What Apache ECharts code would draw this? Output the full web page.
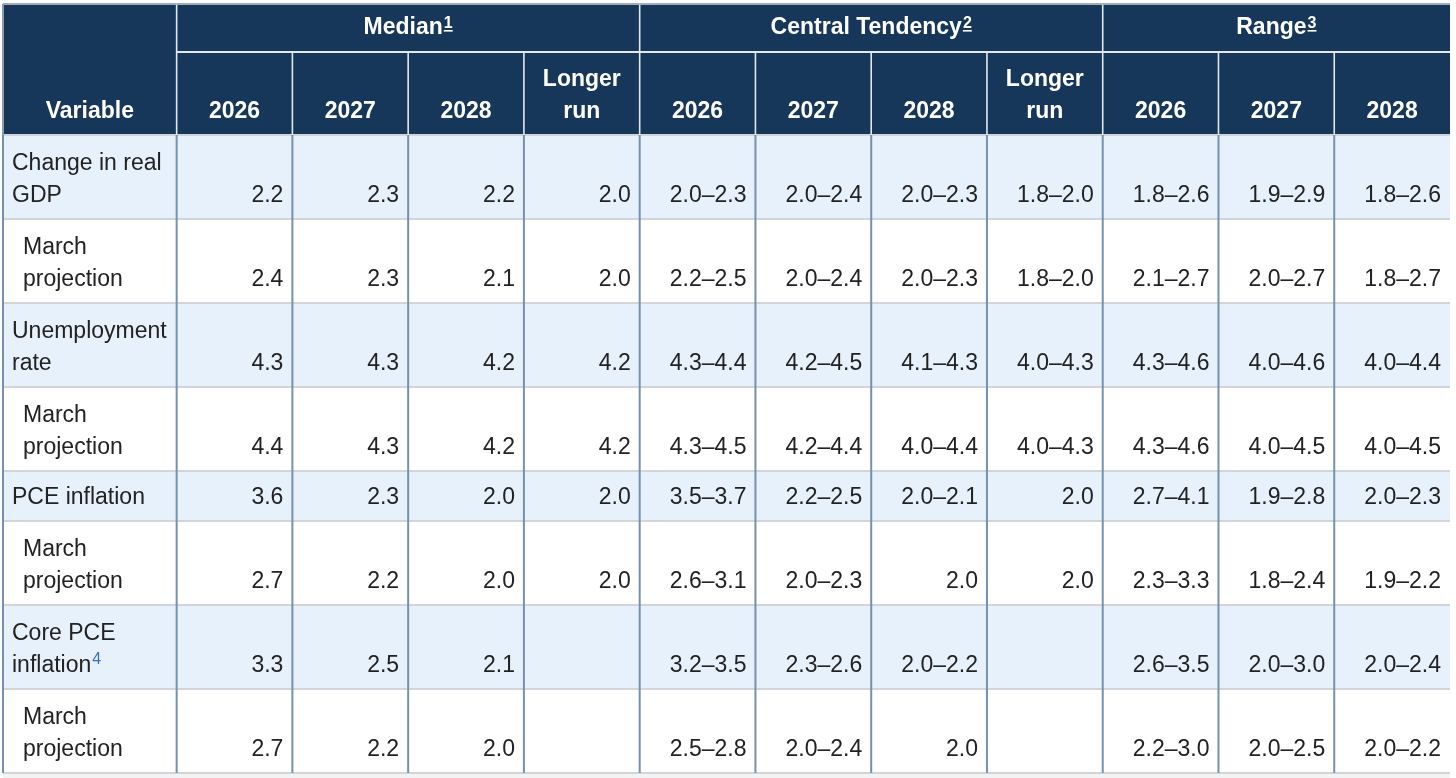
<!DOCTYPE html>
<html>
<head>
<meta charset="utf-8">
<script src="https://cdn.jsdelivr.net/npm/echarts@6/dist/echarts.min.js"></script>
<style>
html, body { margin: 0; padding: 0; background: #ffffff; }
#c { width: 1456px; height: 778px; }
</style>
</head>
<body>
<div id="c"></div>
<script>
// ---------------- data ----------------
const groups = ['Median', 'Central Tendency', 'Range'];
const groupNotes = ['1', '2', '3'];
const groupColumns = [
  ['2026', '2027', '2028', 'Longer\nrun'],
  ['2026', '2027', '2028', 'Longer\nrun'],
  ['2026', '2027', '2028']
];
const variableHeader = 'Variable';
const rowLabels = [
  'Change in real\nGDP',
  'March\nprojection',
  'Unemployment\nrate',
  'March\nprojection',
  'PCE inflation',
  'March\nprojection',
  'Core PCE\ninflation',
  'March\nprojection'
];
const rowNotes = ['', '', '', '', '', '', '4', ''];
const rowIsSub = [false, true, false, true, false, true, false, true];
const median = [
  ['2.2', '2.3', '2.2', '2.0'],
  ['2.4', '2.3', '2.1', '2.0'],
  ['4.3', '4.3', '4.2', '4.2'],
  ['4.4', '4.3', '4.2', '4.2'],
  ['3.6', '2.3', '2.0', '2.0'],
  ['2.7', '2.2', '2.0', '2.0'],
  ['3.3', '2.5', '2.1', ''],
  ['2.7', '2.2', '2.0', '']
];
const centralTendency = [
  ['2.0–2.3', '2.0–2.4', '2.0–2.3', '1.8–2.0'],
  ['2.2–2.5', '2.0–2.4', '2.0–2.3', '1.8–2.0'],
  ['4.3–4.4', '4.2–4.5', '4.1–4.3', '4.0–4.3'],
  ['4.3–4.5', '4.2–4.4', '4.0–4.4', '4.0–4.3'],
  ['3.5–3.7', '2.2–2.5', '2.0–2.1', '2.0'],
  ['2.6–3.1', '2.0–2.3', '2.0', '2.0'],
  ['3.2–3.5', '2.3–2.6', '2.0–2.2', ''],
  ['2.5–2.8', '2.0–2.4', '2.0', '']
];
const range = [
  ['1.8–2.6', '1.9–2.9', '1.8–2.6'],
  ['2.1–2.7', '2.0–2.7', '1.8–2.7'],
  ['4.3–4.6', '4.0–4.6', '4.0–4.4'],
  ['4.3–4.6', '4.0–4.5', '4.0–4.5'],
  ['2.7–4.1', '1.9–2.8', '2.0–2.3'],
  ['2.3–3.3', '1.8–2.4', '1.9–2.2'],
  ['2.6–3.5', '2.0–3.0', '2.0–2.4'],
  ['2.2–3.0', '2.0–2.5', '2.0–2.2']
];
const groupValues = [median, centralTendency, range];

// ---------------- layout ----------------
const FONT = '"Liberation Sans", Arial, Helvetica, sans-serif';
const FS = 23;
const LINE_H = 32;
const HEADER_BG = '#17375a';
const MAIN_BG = '#e7f1fb';
const SUB_BG = '#ffffff';
const TEXT = '#222222';
const V_LINE = '#7591ad';
const H_LINE = '#d1d5d9';
const HEAD_LINE = '#e3e8ee';
const NOTE_BLUE = '#3a70b5';

const firstColUnits = 1.5;
const nDataCols = groupColumns.reduce((s, g) => s + g.length, 0);
const colWidths = [firstColUnits].concat(new Array(nDataCols).fill(1));
const colEdges = [0];
colWidths.forEach(w => colEdges.push(colEdges[colEdges.length - 1] + w));
const headerRowHeights = [48, 83];
const bodyRowHeights = rowLabels.map(l => l.split('\n').length === 1 ? 50 : 84);
const rowHeights = headerRowHeights.concat(bodyRowHeights);
const rowEdges = [0];
rowHeights.forEach(h => rowEdges.push(rowEdges[rowEdges.length - 1] + h));
const totalUnitsX = colEdges[colEdges.length - 1];
const totalH = rowEdges[rowEdges.length - 1];
const lastCol = colEdges.length - 1;

// ---------------- cells ----------------
const cells = [];
cells.push({ kind: 'hvar', c0: 0, c1: 1, r0: 0, r1: 2, text: variableHeader });
let cc = 1;
groups.forEach((g, gi) => {
  const n = groupColumns[gi].length;
  cells.push({ kind: 'hgroup', c0: cc, c1: cc + n, r0: 0, r1: 1, text: g, note: groupNotes[gi] });
  groupColumns[gi].forEach((y, k) => {
    cells.push({ kind: 'hcol', c0: cc + k, c1: cc + k + 1, r0: 1, r1: 2, text: y });
  });
  cc += n;
});
rowLabels.forEach((lab, i) => {
  cells.push({ kind: 'label', c0: 0, c1: 1, r0: 2 + i, r1: 3 + i, text: lab, note: rowNotes[i], sub: rowIsSub[i] });
  let col = 1;
  groupValues.forEach(arr => {
    arr[i].forEach(v => {
      cells.push({ kind: 'value', c0: col, c1: col + 1, r0: 2 + i, r1: 3 + i, text: v, sub: rowIsSub[i] });
      col++;
    });
  });
});

const mctx = document.createElement('canvas').getContext('2d');
function textWidth(t, font) { mctx.font = font; return mctx.measureText(t).width; }

function line(xa, ya, xb, yb, stroke, w, z2) {
  return { type: 'line', shape: { x1: xa, y1: ya, x2: xb, y2: yb }, style: { stroke: stroke, lineWidth: w }, z2: z2, silent: true };
}

function renderItem(params, api) {
  const cell = cells[params.dataIndex];
  const a = api.coord([api.value(0), api.value(1)]);
  const b = api.coord([api.value(2), api.value(3)]);
  const x0 = a[0], y0 = a[1], x1 = b[0], y1 = b[1];
  const isHead = cell.kind.charAt(0) === 'h';
  const children = [];
  const fill = isHead ? HEADER_BG : (cell.sub ? SUB_BG : MAIN_BG);
  children.push({ type: 'rect', shape: { x: x0, y: y0, width: x1 - x0, height: y1 - y0 }, style: { fill: fill }, z2: 0, silent: true });

  // borders
  if (isHead) {
    if (cell.r1 === 1) children.push(line(x0, y1, x1, y1, HEAD_LINE, 2, 1));
    else children.push(line(x0, y1, x1, y1, H_LINE, 2, 1));
    if (cell.c1 < lastCol) children.push(line(x1, y0, x1, y1, HEAD_LINE, 1.6, 2));
  } else {
    children.push(line(x0, y1, x1, y1, H_LINE, 2, 1));
    if (cell.c1 < lastCol) children.push(line(x1, y0, x1, y1, V_LINE, 2, 2));
  }
  if (cell.c0 === 0) children.push(line(x0, y0, x0, y1, isHead ? '#8d9db0' : V_LINE, 2, 2));
  if (cell.r0 === 0) children.push(line(x0, y0, x1, y0, '#a3adb8', 2, 2));

  const boldFont = 'bold ' + FS + 'px ' + FONT;
  const normFont = FS + 'px ' + FONT;

  if (cell.kind === 'hgroup') {
    const mainW = textWidth(cell.text, boldFont);
    const supFont = 'bold 16px ' + FONT;
    const supW = textWidth(cell.note, supFont);
    const cx = (x0 + x1) / 2;
    const yc = (y0 + y1) / 2;
    const sx = cx - (mainW + supW + 1) / 2;
    children.push({ type: 'text', z2: 3, silent: true, style: { text: cell.text, x: sx, y: yc, align: 'left', verticalAlign: 'middle', fill: '#ffffff', font: boldFont } });
    children.push({ type: 'text', z2: 3, silent: true, style: { text: cell.note, x: sx + mainW + 1, y: yc - 4, align: 'left', verticalAlign: 'middle', fill: '#ffffff', font: supFont } });
    children.push({ type: 'rect', z2: 3, silent: true, shape: { x: sx + mainW + 1, y: yc + 2, width: supW, height: 1.6 }, style: { fill: '#ffffff' } });
  } else if (cell.kind === 'hvar' || cell.kind === 'hcol') {
    children.push({ type: 'text', z2: 3, silent: true, style: { text: cell.text, x: (x0 + x1) / 2, y: y1 - 7, align: 'center', verticalAlign: 'bottom', lineHeight: LINE_H, fill: '#ffffff', font: boldFont } });
  } else if (cell.kind === 'label') {
    const tx = x0 + (cell.sub ? 20 : 9);
    children.push({ type: 'text', z2: 3, silent: true, style: { text: cell.text, x: tx, y: y1 - 7, align: 'left', verticalAlign: 'bottom', lineHeight: LINE_H, fill: TEXT, font: normFont } });
    if (cell.note) {
      const lines = cell.text.split('\n');
      const lw = textWidth(lines[lines.length - 1], normFont);
      children.push({ type: 'text', z2: 3, silent: true, style: { text: cell.note, x: tx + lw + 1, y: y1 - 29, align: 'left', verticalAlign: 'middle', fill: NOTE_BLUE, font: '16px ' + FONT } });
    }
  } else if (cell.kind === 'value' && cell.text) {
    children.push({ type: 'text', z2: 3, silent: true, style: { text: cell.text, x: x1 - 9, y: y1 - 7, align: 'right', verticalAlign: 'bottom', lineHeight: LINE_H, fill: TEXT, font: normFont } });
  }
  return { type: 'group', children: children };
}

const chart = echarts.init(document.getElementById('c'));
const gridLeft = 3, gridTop = 4, gridWidth = 1447;
chart.setOption({
  backgroundColor: '#ffffff',
  animation: false,
  grid: { left: gridLeft, top: gridTop, width: gridWidth, height: totalH, containLabel: false },
  xAxis: { type: 'value', min: 0, max: totalUnitsX, show: false },
  yAxis: { type: 'value', min: 0, max: totalH, inverse: true, show: false },
  graphic: [{
    type: 'rect', left: gridLeft, top: gridTop + totalH + 1, z: -1,
    shape: { width: gridWidth, height: 12 }, style: { fill: '#f3f3f3' }
  }],
  series: [{
    type: 'custom',
    silent: true,
    renderItem: renderItem,
    encode: { x: [0, 2], y: [1, 3] },
    data: cells.map(c => [colEdges[c.c0], rowEdges[c.r0], colEdges[c.c1], rowEdges[c.r1]])
  }]
});
</script>
</body>
</html>
